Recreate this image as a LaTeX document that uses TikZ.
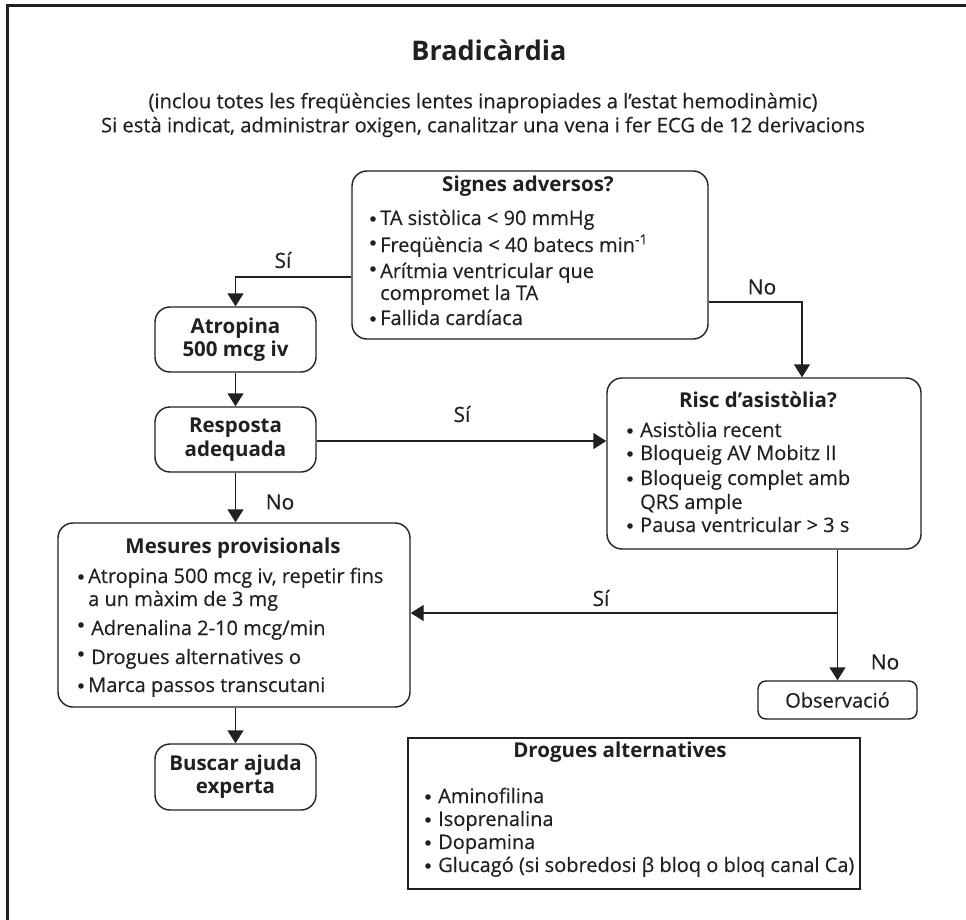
\documentclass[tikz,border=0pt]{standalone}
\usepackage{fontspec}
\setmainfont{Open Sans}
% slightly heavier regular face for body text
\newfontfamily\rgfont{Open Sans}[FakeBold=0.35]
\usetikzlibrary{arrows.meta}
\definecolor{ink}{HTML}{231F20}
\begin{document}
\begin{tikzpicture}[x=1pt,y=-1pt,
  every node/.style={text=ink},
  rbox/.style={draw=ink, line width=1.4pt, rounded corners=15pt, inner sep=0pt},
  sbox/.style={draw=ink, line width=1.1pt, inner sep=0pt},
  arr/.style={draw=ink, line width=1.4pt, -{Triangle[width=16pt,length=13pt]}},
  ttl/.style={font=\fontsize{20.5}{24}\selectfont\bfseries, inner sep=0pt},
  txt/.style={font=\rgfont\fontsize{20}{24}\selectfont, inner sep=0pt, anchor=base west},
  lbl/.style={font=\rgfont\fontsize{21}{24}\selectfont, inner sep=0pt},
  dot/.style={circle, fill=ink, inner sep=0pt, minimum size=5.6pt}
]
\useasboundingbox (0,0) rectangle (966,920);

% outer frame (left and top edges)
\draw[ink, line width=3pt] (7,925) -- (7,6) -- (970,6);

% heading
\node[font=\fontsize{27}{32}\selectfont\bfseries, inner sep=0pt] (title) at (489,50) {Bradicàrdia};
\node[font=\rgfont\fontsize{20.2}{24}\selectfont, inner sep=0pt] (sub1) at (483,103) {(inclou totes les freqüències lentes inapropiades a l’estat hemodinàmic)};
\node[font=\rgfont\fontsize{20.2}{24}\selectfont, inner sep=0pt] (sub2) at (483,127) {Si està indicat, administrar oxigen, canalitzar una vena i fer ECG de 12 derivacions};

% boxes
\node[rbox, minimum width=356pt, minimum height=168pt] (signes) at (530,255) {};
\node[rbox, minimum width=314pt, minimum height=171pt] (risc) at (764,463.5) {};
\node[rbox, minimum width=161pt, minimum height=65pt] (atropina) at (235.5,339.5) {};
\node[rbox, minimum width=161pt, minimum height=65pt] (resposta) at (235.5,439.5) {};
\node[rbox, minimum width=352pt, minimum height=184pt] (mesures) at (234,615) {};
\node[rbox, minimum width=161pt, minimum height=66pt] (buscar) at (235.5,777) {};
\node[rbox, rounded corners=8pt, minimum width=159pt, minimum height=38pt] (obs) at (837.5,700) {};
\node[sbox, minimum width=452pt, minimum height=151pt] (drogues) at (634,813.5) {};

% signes adversos
\node[ttl] (sgT) at (528,186) {Signes adversos?};
\node[dot] (sgB1) at (373,219) {};
\node[txt] (sg1) at (380,225) {TA sistòlica < 90 mmHg};
\node[dot] (sgB2) at (373,243) {};
\node[txt] (sg2) at (380,252) {Freqüència < 40 batecs min\textsuperscript{-1}};
\node[dot] (sgB3) at (373,269) {};
\node[txt] (sg3) at (380,278) {Arítmia ventricular que};
\node[txt] (sg4) at (380,300) {compromet la TA};
\node[dot] (sgB5) at (373,319) {};
\node[txt] (sg5) at (380,325) {Fallida cardíaca};

% risc d'asistolia
\node[ttl] (rsT) at (758,400) {Risc d’asistòlia?};
\node[dot] (rsB1) at (630,431) {};
\node[txt] (rs1) at (640,437) {Asistòlia recent};
\node[dot] (rsB2) at (630,454) {};
\node[txt] (rs2) at (640,460) {Bloqueig AV Mobitz II};
\node[dot] (rsB3) at (630,479) {};
\node[txt] (rs3) at (640,485) {Bloqueig complet amb};
\node[txt] (rs4) at (640,509) {QRS ample};
\node[dot] (rsB5) at (630,526) {};
\node[txt] (rs5) at (640,532) {Pausa ventricular > 3 s};

% atropina, resposta, buscar
\node[ttl, align=center, font=\fontsize{20.5}{22.5}\selectfont\bfseries] (atT) at (atropina) {Atropina\\500 mcg iv};
\node[ttl, align=center, font=\fontsize{20.5}{23.5}\selectfont\bfseries] (reT) at (resposta) {Resposta\\adequada};
\node[ttl, align=center, font=\fontsize{20.5}{23}\selectfont\bfseries] (buT) at (buscar) {Buscar ajuda\\experta};

% mesures provisionals
\node[ttl] (msT) at (233,548) {Mesures provisionals};
\node[dot] (msB1) at (81,577) {};
\node[txt] (ms1) at (88,583) {Atropina 500 mcg iv, repetir fins};
\node[txt] (ms2) at (88,606) {a un màxim de 3 mg};
\node[dot] (msB3) at (81,625) {};
\node[txt] (ms3) at (91,635) {Adrenalina 2-10 mcg/min};
\node[dot] (msB4) at (81,654) {};
\node[txt] (ms4) at (91,664) {Drogues alternatives o};
\node[dot] (msB5) at (81,686) {};
\node[txt] (ms5) at (88,692) {Marca passos transcutani};

% observacio
\node[font=\rgfont\fontsize{20}{24}\selectfont, inner sep=0pt] (obT) at (obs) {Observació};

% drogues alternatives
\node[ttl] (drT) at (620,752) {Drogues alternatives};
\node[dot] (drB1) at (428,797) {};
\node[txt] (dr1) at (438,803) {Aminofilina};
\node[dot] (drB2) at (428,820) {};
\node[txt] (dr2) at (438,826) {Isoprenalina};
\node[dot] (drB3) at (428,843) {};
\node[txt] (dr3) at (438,849) {Dopamina};
\node[dot] (drB4) at (428,866) {};
\node[txt] (dr4) at (438,872) {Glucagó (si sobredosi β bloq o bloq canal Ca)};

% connectors
\coordinate (noTurn) at (802,302);
\coordinate (siSplit) at (838,613);
\draw[arr] ([yshift=-22pt]signes.west) -| (atropina.north);
\draw[arr] (signes.east |- noTurn) -- (noTurn) -- (noTurn |- risc.north);
\draw[arr] (atropina.south) -- (resposta.north);
\draw[arr] ([yshift=-1.5pt]resposta.east) -- ([yshift=-1.5pt]resposta.east -| risc.west);
\draw[arr] (resposta.south) -- (resposta.south |- mesures.north);
\draw[arr] (obs.north |- risc.south) -- (obs.north);
\draw[arr] (siSplit) -- (siSplit -| mesures.east);
\draw[arr] (mesures.south -| buscar.north) -- (buscar.north);

% branch labels
\node[lbl] (l1) at (283,260) {Sí};
\node[lbl] (l2) at (762,287) {No};
\node[lbl] (l3) at (462,414) {Sí};
\node[lbl] (l4) at (280,502) {No};
\node[lbl] (l5) at (601,598) {Sí};
\node[lbl] (l6) at (885,662) {No};
\end{tikzpicture}
\end{document}
